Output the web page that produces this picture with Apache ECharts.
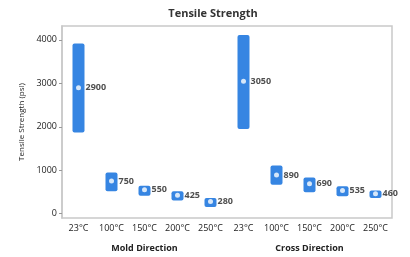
<!DOCTYPE html>
<html>
<head>
<meta charset="utf-8">
<script src="https://cdn.jsdelivr.net/npm/echarts@6/dist/echarts.min.js"></script>
<style>
  html, body { margin: 0; padding: 0; background: #fff; }
  #chart { width: 410px; height: 257px; }
</style>
</head>
<body>
<div id="chart"></div>
<script>
var temps = ["23°C", "100°C", "150°C", "200°C", "250°C", "23°C", "100°C", "150°C", "200°C", "250°C"];
var groups = ["Mold Direction", "Cross Direction"];
// range of each box (psi)
var lows = [1870, 515, 415, 305, 155, 1950, 665, 490, 400, 360];
var highs = [3920, 950, 645, 515, 360, 4110, 1110, 835, 630, 535];
// mean values
var means = [2900, 750, 550, 425, 280, 3050, 890, 690, 535, 460];

var blue = "#3685e2";
var fontFam = "'Open Sans', 'Liberation Sans', sans-serif";

var chartDom = document.getElementById("chart");
var myChart = echarts.init(chartDom);
var option;

option = {
  animation: false,
  title: {
    text: "Tensile Strength",
    left: 208,
    textAlign: "center",
    top: 3,
    textStyle: {
      fontSize: 11,
      fontWeight: "bold",
      color: "#333",
      fontFamily: fontFam,
    },
  },
  grid: {
    left: 62,
    right: 18,
    top: 26,
    bottom: 39,
    show: true,
    borderColor: "#c9c9c9",
    borderWidth: 1.5,
  },
  xAxis: [
    {
      type: "category",
      data: temps,
      position: "bottom",
      axisLine: { show: false },
      axisTick: { show: false },
      axisLabel: {
        interval: 0,
        margin: 6,
        fontSize: 9,
        color: "#222",
        fontFamily: fontFam,
      },
    },
    {
      type: "category",
      data: groups,
      position: "bottom",
      offset: 18,
      axisLine: { show: false },
      axisTick: { show: false },
      axisLabel: {
        interval: 0,
        fontSize: 9,
        fontWeight: "bold",
        color: "#222",
        fontFamily: fontFam,
      },
    },
  ],
  yAxis: {
    type: "value",
    min: -100,
    max: 4320,
    name: "Tensile Strength (psi)",
    nameLocation: "middle",
    nameGap: 31,
    nameTextStyle: {
      fontSize: 8,
      color: "#222",
      fontFamily: fontFam,
    },
    splitLine: { show: false },
    axisLine: { show: true, lineStyle: { color: "#c9c9c9", width: 1.5 } },
    axisTick: {
      show: true,
      length: 3,
      customValues: [0, 1000, 2000, 3000, 4000],
      lineStyle: { color: "#999" },
    },
    axisLabel: {
      customValues: [0, 1000, 2000, 3000, 4000],
      formatter: function (v) {
        return String(v);
      },
      fontSize: 9,
      margin: 5,
      color: "#222",
      fontFamily: fontFam,
    },
  },
  series: [
    {
      type: "bar",
      stack: "box",
      barWidth: 12,
      itemStyle: { color: "transparent" },
      data: lows,
      silent: true,
    },
    {
      type: "bar",
      stack: "box",
      barWidth: 12,
      itemStyle: { color: blue, borderRadius: 2 },
      data: highs.map(function (h, i) {
        return h - lows[i];
      }),
    },
    {
      type: "scatter",
      symbol: "circle",
      symbolSize: 5,
      itemStyle: { color: "#fff" },
      data: means,
      z: 5,
      label: {
        show: true,
        position: "right",
        distance: 4.5,
        fontSize: 9,
        fontWeight: "bold",
        color: "#222",
        fontFamily: fontFam,
      },
    },
  ],
};
option && myChart.setOption(option);
</script>
</body>
</html>
